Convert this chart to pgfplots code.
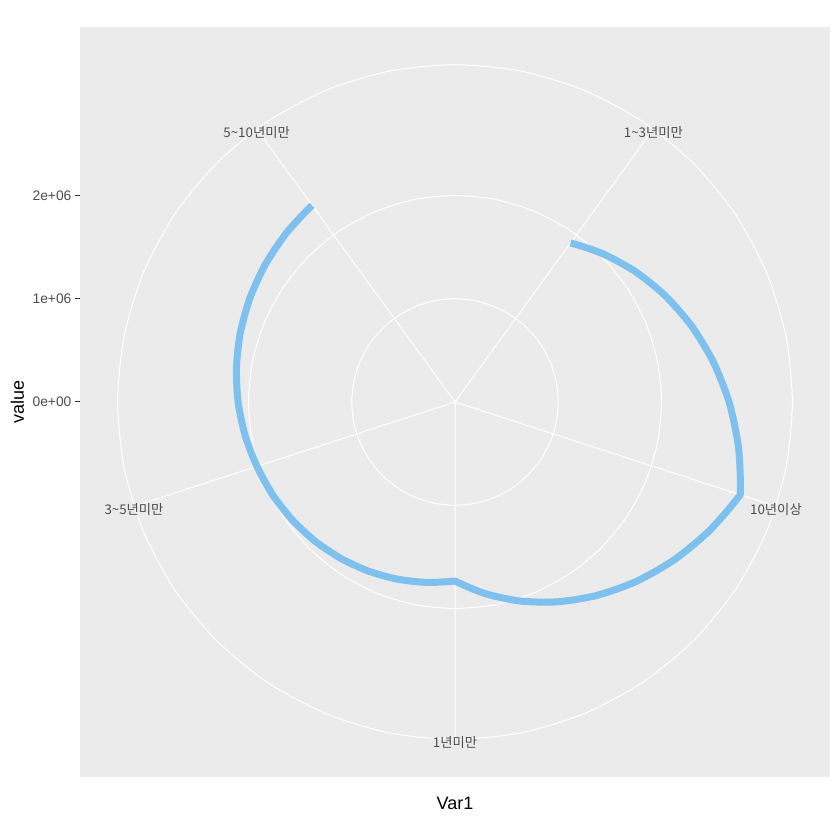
\documentclass[border=0pt]{standalone}
\usepackage{pgfplots}
\pgfplotsset{compat=1.18}
\usepackage{fontspec}
\setmainfont{Liberation Sans}
\newfontfamily\krfont{Noto Sans CJK KR}
\usepgfmodule{nonlineartransformations}
\definecolor{panelbg}{HTML}{EBEBEB}
\definecolor{linecol}{HTML}{7EC0EE}
\definecolor{gray30}{HTML}{4D4D4D}
\definecolor{gray20}{HTML}{333333}

% polar mapping: canvas x (pt) = angle in degrees clockwise from top,
% canvas y (pt) = radius in pt; centre of the panel at (225pt,225pt)
\newdimen\myrad
\makeatletter
\def\my@polar{%
  \edef\my@ang{\pgf@sys@tonumber\pgf@x}%
  \edef\my@rad{\pgf@sys@tonumber\pgf@y}%
  \pgfmathsin@{\my@ang}\let\my@s\pgfmathresult
  \pgfmathcos@{\my@ang}\let\my@c\pgfmathresult
  \myrad=\my@rad pt\relax
  \pgf@x=\my@s\myrad
  \pgf@y=\my@c\myrad
  \advance\pgf@x by 225pt\relax
  \advance\pgf@y by 225pt\relax
}
\def\polartrafo{%
  \ifdim\pgf@x>1000pt\relax\else
  \ifdim\pgf@x<-1000pt\relax\else
  \ifdim\pgf@y>1000pt\relax\else
  \ifdim\pgf@y<-1000pt\relax\else
    \my@polar
  \fi\fi\fi\fi
}
\makeatother
\tikzset{polar trafo/.code={\pgftransformnonlinear{\polartrafo}}}
\pgfplotsset{panel/.style={
  at={(0pt,0pt)}, anchor=south west,
  scale only axis, width=450pt, height=450pt,
  xmin=-3630200, xmax=3630200, ymin=-3630200, ymax=3630200,
  enlargelimits=false, scaled ticks=false}}

\begin{document}
\begin{tikzpicture}
\useasboundingbox (-48pt,-37.8pt) rectangle (456pt,466.2pt);
% panel, value axis and titles
\begin{axis}[
  panel,
  axis background/.style={fill=panelbg},
  axis line style={draw=none},
  xtick=\empty,
  ytick={0,1000000,2000000},
  yticklabels={0e+00,1e+06,2e+06},
  ytick pos=left, tick align=outside, major tick length=2.75pt,
  tick style={gray20, line width=0.6pt},
  yticklabel style={font=\fontsize{8.3}{10}\selectfont, text=gray30, inner sep=0pt, anchor=east, xshift=-2.2pt},
  xlabel={Var1}, ylabel={value},
  xlabel style={font=\fontsize{10.8}{13}\selectfont, at={(axis description cs:0.5,-0.0431)}, anchor=base, inner sep=0pt},
  ylabel style={font=\fontsize{10.8}{13}\selectfont, at={(axis description cs:-0.0747,0.5)}, anchor=base, inner sep=0pt},
]
\end{axis}
% polar part: x = category position (angle), y = value (radius)
\begin{axis}[
  at={(0pt,0pt)}, anchor=south west,
  scale only axis, width=360pt, height=202.5pt,
  xmin=0.5, xmax=5.5, ymin=0, ymax=3267200,
  enlargelimits=false, clip=false, scaled ticks=false,
  hide axis,
]
% grid: circles (constant value) and spokes (constant category)
\pgfplotsinvokeforeach{1000000,2000000,3267200}{
  \addplot[white, line width=0.6pt, polar trafo] coordinates {(0.5,#1) (5.5,#1)};
}
\pgfplotsinvokeforeach{1,2,3,4,5}{
  \addplot[white, line width=0.6pt, polar trafo] coordinates {(#1,0) (#1,3267200)};
}
% 1 = 1~3년미만, 2 = 10년이상, 3 = 1년미만, 4 = 3~5년미만, 5 = 5~10년미만
\addplot[linecol, line width=4.2pt, line join=round, line cap=butt, polar trafo] table {
pos value
1 1903000
2 2904000
3 1733000
4 2016000
5 2353000
};
\end{axis}
% category labels on the outer circle
\begin{axis}[panel, hide axis]
\tikzset{thlab/.style={font=\krfont\fontsize{8}{10}\selectfont, text=gray30, inner sep=0pt, anchor=center, yshift=-2pt}}
\node[thlab] at (axis cs:1920400,2643200) {1\textasciitilde3년미만};
\node[thlab] at (axis cs:3107300,-1009600) {10년이상};
\node[thlab] at (axis cs:0,-3267200) {1년미만};
\node[thlab] at (axis cs:-3107300,-1009600) {3\textasciitilde5년미만};
\node[thlab] at (axis cs:-1920400,2643200) {5\textasciitilde10년미만};
\end{axis}
\end{tikzpicture}
\end{document}
